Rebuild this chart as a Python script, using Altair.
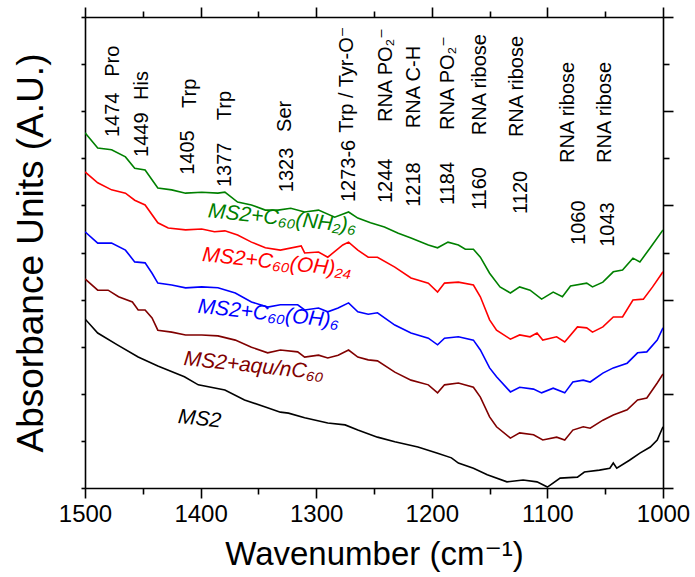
import altair as alt
import pandas as pd

# ---------------- data ----------------
series_names = ["MS2", "MS2+aqu/nC60", "MS2+C60(OH)6", "MS2+C60(OH)24", "MS2+C60(NH2)6"]
series_colors = ["#000000", "#800000", "#0000ff", "#ff0000", "#008000"]

ms2_wn = [1500, 1489, 1472, 1454, 1437, 1414, 1402, 1379, 1362, 1344, 1331, 1324, 1310, 1290,
          1275, 1264, 1247, 1232, 1212, 1195, 1183, 1177, 1164, 1152, 1135, 1121, 1109, 1100,
          1089, 1074, 1068, 1055, 1046, 1043, 1040, 1029, 1020, 1011, 1005, 1000]
ms2_ab = [3.59, 3.29, 3.04, 2.78, 2.59, 2.36, 2.19, 2.08, 1.87, 1.72, 1.61, 1.59, 1.49, 1.38,
          1.34, 1.23, 1.08, 0.98, 0.87, 0.74, 0.64, 0.53, 0.42, 0.28, 0.13, 0.17, 0.13, 0.02,
          0.21, 0.23, 0.34, 0.38, 0.42, 0.53, 0.42, 0.59, 0.74, 0.87, 1.02, 1.30]

aqu_wn = [1500, 1489, 1480, 1471, 1459, 1454, 1448, 1442, 1437, 1425, 1413, 1399, 1385, 1370,
          1356, 1342, 1331, 1316, 1310, 1298, 1290, 1281, 1272, 1264, 1255, 1247, 1232, 1218,
          1203, 1195, 1189, 1177, 1164, 1158, 1150, 1144, 1132, 1124, 1112, 1104, 1092, 1085,
          1078, 1069, 1063, 1052, 1043, 1031, 1022, 1014, 1005, 1000]
aqu_ab = [4.44, 4.20, 4.20, 4.06, 3.95, 3.78, 3.78, 3.61, 3.35, 3.31, 3.25, 3.25, 3.23, 3.14,
          2.99, 2.87, 2.93, 2.89, 2.78, 2.82, 2.76, 2.82, 2.93, 2.78, 2.72, 2.70, 2.46, 2.29,
          2.19, 2.02, 2.19, 2.23, 2.14, 1.93, 1.51, 1.30, 1.06, 1.17, 1.13, 1.02, 1.08, 1.02,
          1.23, 1.30, 1.27, 1.44, 1.55, 1.66, 1.87, 1.91, 2.23, 2.42]

oh6_wn = [1500, 1489, 1477, 1465, 1457, 1448, 1442, 1437, 1425, 1413, 1399, 1385, 1370, 1356,
          1342, 1331, 1316, 1310, 1298, 1290, 1281, 1272, 1264, 1255, 1247, 1232, 1218, 1203,
          1195, 1189, 1177, 1164, 1158, 1150, 1144, 1132, 1124, 1112, 1105, 1095, 1085, 1078,
          1069, 1063, 1052, 1043, 1031, 1022, 1014, 1005, 1000]
oh6_ab = [5.44, 5.20, 5.20, 5.05, 4.80, 4.78, 4.56, 4.35, 4.31, 4.25, 4.27, 4.25, 4.14, 3.95,
          3.84, 3.89, 3.89, 3.78, 3.82, 3.74, 3.82, 3.93, 3.74, 3.69, 3.72, 3.46, 3.29, 3.18,
          3.04, 3.18, 3.21, 3.14, 2.93, 2.55, 2.36, 2.04, 2.14, 2.10, 2.02, 2.12, 2.02, 2.25,
          2.29, 2.25, 2.44, 2.55, 2.65, 2.87, 2.89, 3.14, 3.40]

oh24_wn = [1500, 1489, 1477, 1465, 1457, 1448, 1437, 1428, 1413, 1399, 1388, 1379, 1368, 1356,
           1344, 1331, 1313, 1310, 1298, 1290, 1277, 1272, 1264, 1255, 1247, 1232, 1218, 1203,
           1195, 1189, 1177, 1164, 1158, 1150, 1144, 1132, 1124, 1115, 1109, 1104, 1092, 1085,
           1074, 1066, 1061, 1052, 1043, 1035, 1026, 1017, 1009, 1000]
oh24_ab = [6.71, 6.48, 6.33, 6.26, 6.11, 6.01, 5.63, 5.52, 5.48, 5.50, 5.44, 5.46, 5.37, 5.22,
           5.10, 5.05, 5.14, 4.99, 5.01, 4.90, 5.16, 5.22, 5.05, 4.90, 4.90, 4.69, 4.46, 4.35,
           4.16, 4.35, 4.37, 4.31, 4.06, 3.57, 3.35, 3.16, 3.25, 3.21, 3.29, 3.14, 3.21, 3.10,
           3.42, 3.40, 3.31, 3.42, 3.63, 3.63, 3.99, 4.01, 4.27, 4.59]

nh2_wn = [1500, 1489, 1477, 1465, 1457, 1448, 1437, 1425, 1413, 1399, 1385, 1379, 1368, 1356,
          1344, 1333, 1322, 1310, 1298, 1284, 1272, 1264, 1253, 1241, 1229, 1218, 1203, 1195,
          1186, 1177, 1171, 1164, 1158, 1150, 1141, 1132, 1124, 1115, 1105, 1095, 1087, 1080,
          1066, 1061, 1052, 1043, 1035, 1026, 1020, 1011, 1000]
nh2_ab = [7.54, 7.22, 7.18, 7.03, 6.79, 6.75, 6.37, 6.33, 6.26, 6.28, 6.26, 6.28, 6.07, 6.01,
          5.90, 5.90, 5.94, 5.86, 5.90, 5.75, 5.86, 5.73, 5.63, 5.54, 5.41, 5.31, 5.16, 5.10,
          5.22, 5.16, 5.07, 5.07, 4.90, 4.56, 4.27, 4.14, 4.27, 4.20, 4.01, 4.16, 4.06, 4.29,
          4.35, 4.27, 4.37, 4.59, 4.63, 4.88, 4.80, 5.10, 5.48]

# curve labels
curve_label_text = ["MS2", "MS2+aqu/nC₆₀", "MS2+C₆₀(OH)₆", "MS2+C₆₀(OH)₂₄", "MS2+C₆₀(NH₂)₆"]
curve_label_wn = [1420, 1415, 1403, 1399, 1394]
curve_label_ab = [1.38, 2.61, 3.72, 4.82, 5.75]

# band assignments: numbers and labels
band_numbers = ["1474", "1449", "1405", "1377", "1323", "1273-6", "1244", "1218", "1184",
                "1160", "1120", "1060", "1043"]
band_number_wn = [1476, 1451, 1411, 1379, 1325, 1272, 1240, 1215, 1186, 1158, 1123, 1073, 1048]
band_number_ab = [7.45, 7.03, 6.65, 6.39, 6.28, 6.07, 6.05, 5.97, 6.01, 5.90, 5.82, 5.16, 5.12]

band_labels = ["Pro", "His", "Trp", "Trp", "Ser", "Trp / Tyr-O⁻", "RNA PO₂⁻", "RNA C-H",
               "RNA PO₂⁻", "RNA ribose", "RNA ribose", "RNA ribose", "RNA ribose"]
band_label_wn = [1476, 1451, 1409, 1379, 1327, 1273, 1240, 1215, 1186, 1158, 1126, 1082, 1050]
band_label_ab = [8.73, 8.24, 8.07, 7.81, 7.56, 7.54, 7.77, 7.64, 7.60, 7.49, 7.45, 6.90, 6.90]

x_major = [1500, 1400, 1300, 1200, 1100, 1000]
x_minor = [1450, 1350, 1250, 1150, 1050]
y_all = [0, 1, 2, 3, 4, 5, 6, 7, 8, 9, 10]
y_major = [0, 2, 4, 6, 8, 10]
y_minor = [1, 3, 5, 7, 9]

# ---------------- tables ----------------
frames = []
for name, wn, ab in [
    (series_names[0], ms2_wn, ms2_ab),
    (series_names[1], aqu_wn, aqu_ab),
    (series_names[2], oh6_wn, oh6_ab),
    (series_names[3], oh24_wn, oh24_ab),
    (series_names[4], nh2_wn, nh2_ab),
]:
    frames.append(pd.DataFrame({"series": name, "wn": wn, "ab": ab, "order": range(len(wn))}))
spectra = pd.concat(frames, ignore_index=True)

curve_labels = pd.DataFrame({"series": series_names, "text": curve_label_text,
                             "wn": curve_label_wn, "ab": curve_label_ab})
numbers_df = pd.DataFrame({"text": band_numbers, "wn": band_number_wn, "ab": band_number_ab})
labels_df = pd.DataFrame({"text": band_labels, "wn": band_label_wn, "ab": band_label_ab})

FONT = "Liberation Sans, Arial, DejaVu Sans"
xscale = alt.Scale(domain=[1000, 1500], reverse=True, nice=False, zero=False)
yscale = alt.Scale(domain=[0, 10], nice=False, zero=False)
color = alt.Color("series:N", scale=alt.Scale(domain=series_names, range=series_colors), legend=None)

common_axis = dict(grid=False, domainColor="black", tickColor="black", domainWidth=1.6,
                   tickWidth=1.6, labelColor="black", titleColor="black")
tick_only = {k: v for k, v in common_axis.items() if k not in ("domainColor", "domainWidth")}

lines = alt.Chart(spectra).mark_line(strokeWidth=1.6, clip=True).encode(
    x=alt.X("wn:Q", scale=xscale, axis=alt.Axis(
        orient="bottom", values=x_major, tickSize=10, labelFontSize=24, labelFont=FONT,
        labelPadding=4, labelFlush=False, labelOverlap=False, format="d",
        title="Wavenumber (cm⁻¹)", titleFontSize=33, titleFont=FONT, titleFontWeight="normal",
        titlePadding=12, **common_axis)),
    y=alt.Y("ab:Q", scale=yscale, axis=alt.Axis(
        orient="left", values=y_all, tickSize=4, labels=False,
        title="Absorbance Units (A.U.)", titleFontSize=37, titleFont=FONT,
        titleFontWeight="normal", titlePadding=30, **common_axis)),
    color=color,
    detail="series:N",
    order="order:Q",
)

curve_text = alt.Chart(curve_labels).mark_text(
    align="left", baseline="alphabetic", angle=6, fontSize=21, fontStyle="italic", font=FONT
).encode(
    x=alt.X("wn:Q", scale=xscale, axis=alt.Axis(
        orient="top", values=x_major, tickSize=10, labels=False, title=None, **common_axis)),
    y=alt.Y("ab:Q", scale=yscale, axis=alt.Axis(
        orient="right", values=y_major, tickSize=10, labels=False, title=None, **common_axis)),
    color=color,
    text="text:N",
)

numbers_text = alt.Chart(numbers_df).mark_text(
    align="left", baseline="middle", angle=270, fontSize=20, font=FONT, color="black"
).encode(
    x=alt.X("wn:Q", scale=xscale, axis=alt.Axis(
        orient="bottom", values=x_minor, tickSize=6, labels=False, title=None, domain=False,
        **tick_only)),
    y=alt.Y("ab:Q", scale=yscale, axis=alt.Axis(
        orient="right", values=y_minor, tickSize=6, labels=False, title=None, domain=False,
        **tick_only)),
    text="text:N",
)

labels_text = alt.Chart(labels_df).mark_text(
    align="left", baseline="middle", angle=270, fontSize=20, font=FONT, color="black"
).encode(
    x=alt.X("wn:Q", scale=xscale, axis=alt.Axis(
        orient="top", values=x_minor, tickSize=6, labels=False, title=None, domain=False,
        **tick_only)),
    y=alt.Y("ab:Q", scale=yscale, axis=None),
    text="text:N",
)

chart = alt.layer(lines, curve_text, numbers_text, labels_text).resolve_axis(
    x="independent", y="independent"
).properties(
    width=578, height=471,
    autosize=alt.AutoSizeParams(type="none"),
    padding={"left": 85, "top": 17, "right": 32, "bottom": 89},
    background="white",
).configure_view(stroke=None).configure(font=FONT)

chart.save("out.html", embed_options={"renderer": "svg", "actions": False})
